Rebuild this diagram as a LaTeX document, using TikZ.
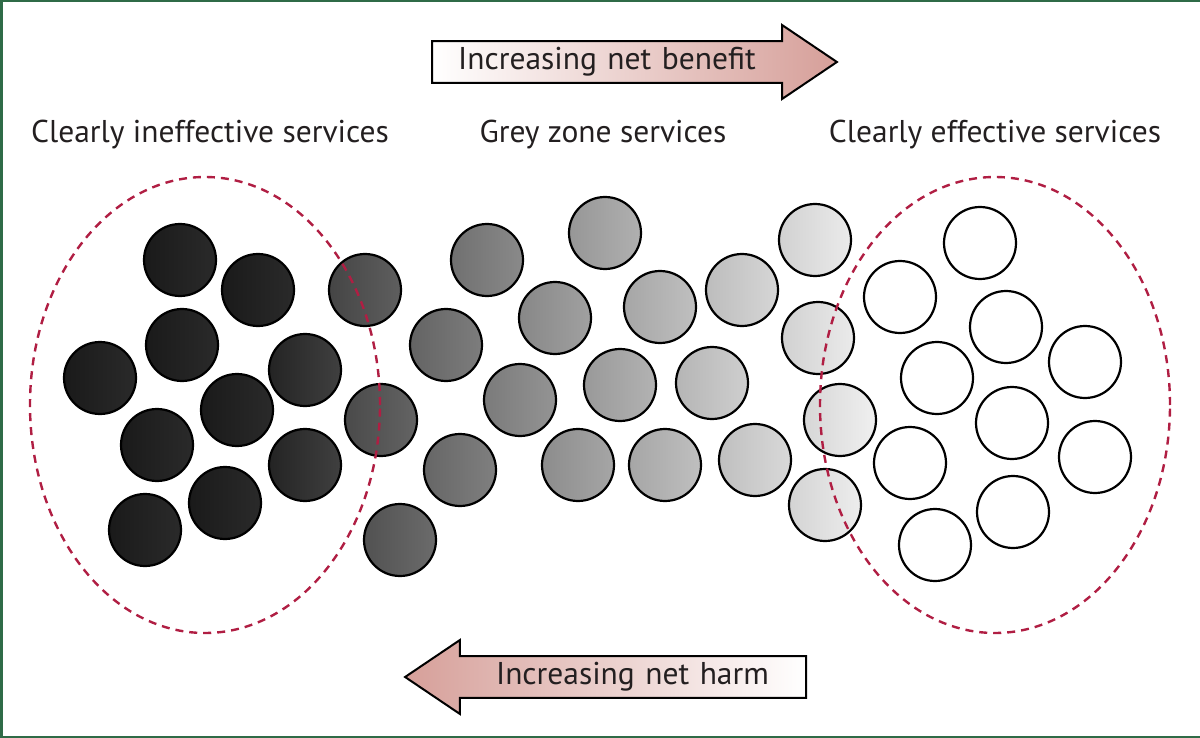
\documentclass[tikz,border=0pt]{standalone}
\usepackage{fontspec}
\setmainfont{PT Sans}
\usepackage{tikz}
\usetikzlibrary{shapes.arrows,shapes.geometric}
\definecolor{framegreen}{HTML}{2F6B47}
\definecolor{zonered}{HTML}{B01E43}
\definecolor{arrowpink}{HTML}{D69F99}
\definecolor{inkgrey}{HTML}{231F20}
\definecolor{darkleft}{HTML}{1A1A1A}
\definecolor{darkright}{HTML}{2A2A2A}

\begin{document}
\begin{tikzpicture}[
  x=1pt, y=-1pt,
  ball/.style={circle, draw=black, line width=2.2pt, minimum size=72pt, inner sep=0pt},
  zone/.style={ellipse, draw=zonered, line width=2.4pt, dash pattern=on 8pt off 6pt, minimum width=350pt, minimum height=456pt, inner sep=0pt},
  heading/.style={font=\fontsize{31.5}{36}\selectfont, text=inkgrey},
  trend/.style={single arrow, draw=black, line width=2pt, minimum width=74pt, single arrow head extend=12pt, single arrow tip angle=68, inner sep=0pt, align=center, font=\fontsize{31.5}{36}\selectfont, text=inkgrey}
]
  \useasboundingbox (0,0) rectangle (1200,738);
  \draw[framegreen, line width=2.5pt] (1200,1.25) -- (1.25,1.25) -- (1.25,736.75) -- (1200,736.75);

  % Headings
  \node[heading] (ineffective) at (210,135) {Clearly ineffective services};
  \node[heading] (greyzone) at (603,135) {Grey zone services};
  \node[heading] (effective) at (995,135) {Clearly effective services};

  % Clearly ineffective: dark circles
  \foreach \x/\y [count=\i] in {180/260, 258/290, 182/345, 100/378, 237/410, 157/445, 225/503, 145/530}
    \node[ball, left color=darkleft, right color=darkright] (d\i) at (\x,\y) {};

  % Grey zone: shade follows the horizontal position
  \foreach \x/\y [count=\i] in {305/370, 305/465, 365/290, 446/345, 381/420, 460/470, 400/540,
      487/260, 555/318, 520/400, 578/465, 605/233, 660/307, 620/385, 665/465,
      742/290, 712/383, 755/460, 815/240, 818/338, 840/420, 825/505} {
    \pgfmathsetmacro\tone{0.2+0.7*((\x-305)/535)^0.8}
    \pgfmathtruncatemacro\lo{max(0,min(100,100*(\tone-0.05)))}
    \pgfmathtruncatemacro\hi{max(0,min(100,100*(\tone+0.05)))}
    \node[ball, left color=white!\lo!black, right color=white!\hi!black] (g\i) at (\x,\y) {};
  }

  % Clearly effective: white circles
  \foreach \x/\y [count=\i] in {980/243, 900/297, 1006/327, 937/378, 1085/362,
      1012/423, 910/463, 1095/457, 1013/512, 935/545}
    \node[ball, fill=white] (w\i) at (\x,\y) {};

  % Dashed zones
  \node[zone] (leftzone) at (205,405) {};
  \node[zone] (rightzone) at (995,405) {};

  % Trend arrows
  \node[trend, text width=372pt, left color=white, right color=arrowpink] (benefit) at (619,62) {\hspace*{-24pt}Increasing net benefit};
  \node[trend, text width=368pt, shape border rotate=180, left color=arrowpink, right color=white] (harm) at (621,677) {\hspace*{23pt}Increasing net harm};
\end{tikzpicture}
\end{document}
